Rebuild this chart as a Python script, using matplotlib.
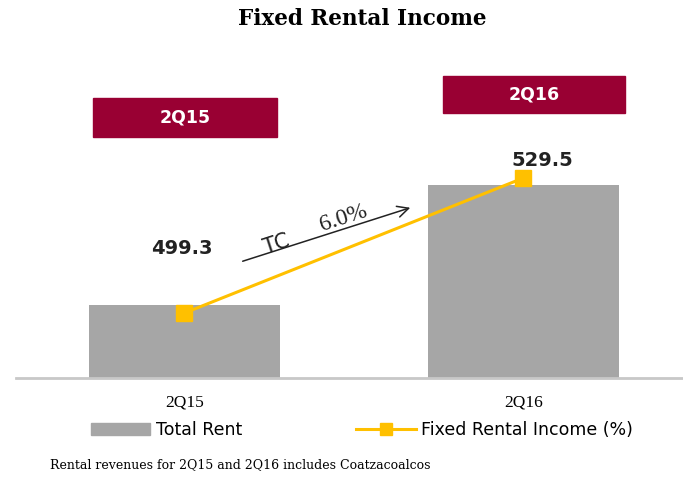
import numpy as np
import matplotlib
matplotlib.use('Agg')
import matplotlib.pyplot as plt
from matplotlib.patches import Rectangle
from matplotlib.lines import Line2D
import matplotlib.transforms as mtransforms

quarters = ['2Q15', '2Q16']
total_rent = [499.3, 529.5]
fixed_income = [499.3, 529.5]
growth_label = '6.0%'
footnote = 'Rental revenues for 2Q15 and 2Q16 includes Coatzacoalcos'

bar_color = '#A6A6A6'
line_color = '#FFC000'
box_color = '#990033'

fig = plt.figure(figsize=(6.83, 4.78), dpi=100)
ax = fig.add_axes([16/683, 1 - 378/478, 666/683, 318/478])
x = np.arange(len(quarters))

ax.bar(x, total_rent, width=0.563, color=bar_color, zorder=2)
ax.set_xlim(-0.497, 1.468)
ax.set_ylim(480.9, 561.0)

for s in ['top', 'right', 'left']:
    ax.spines[s].set_visible(False)
ax.spines['bottom'].set_color('#C8C8C8')
ax.spines['bottom'].set_linewidth(2)
ax.set_yticks([])
ax.set_xticks(x)
ax.set_xticklabels(quarters, family='Liberation Serif', fontsize=12.5)
ax.tick_params(axis='x', length=0, pad=12)

# line on its own scale
ax2 = ax.twinx()
ax2.set_ylim(484.76, 555.9)
ax2.axis('off')
ax2.plot(x, fixed_income, color=line_color, lw=2.2, marker='s', ms=11, zorder=3)

# value labels
ax.text(-0.007, 513.6, f'{total_rent[0]:.1f}', ha='center', va='center',
        fontsize=14, fontweight='bold', color='#222222')
ax.text(1.055, 535.8, f'{total_rent[1]:.1f}', ha='center', va='center',
        fontsize=14, fontweight='bold', color='#222222')

# quarter boxes
trans = mtransforms.blended_transform_factory(ax.transData, ax.transAxes)
boxes = [(-0.27, 0.758, 0.543, 0.122), (0.031 + 1 - 0.268, 0.833, 0.537, 0.117)]
for q, (bx, by, bw, bh) in zip(quarters, boxes):
    ax.add_patch(Rectangle((bx, by), bw, bh, transform=trans, color=box_color,
                           clip_on=False, zorder=4))
    ax.text(bx + bw / 2, by + bh / 2, q, transform=trans, ha='center', va='center',
            color='white', fontsize=12.5, fontweight='bold', zorder=5)

# growth arrow
ax.annotate('', xy=(0.674, 524.0), xytext=(0.164, 510.1),
            arrowprops=dict(arrowstyle='->', color='#222222', lw=1.1,
                            mutation_scale=20))
ax.text(0.273, 514.7, 'TC', rotation=18, ha='center', va='center',
        fontsize=15, color='#222222')
ax.text(0.47, 521.2, growth_label, rotation=18, ha='center', va='center',
        fontsize=17, family='Liberation Serif', color='#222222')

fig.text(362/683, 1 - 19/478, 'Fixed Rental Income', ha='center', va='center',
         family='DejaVu Serif', fontweight='bold', fontsize=15.5)

handles = [Rectangle((0, 0), 1, 1, color=bar_color),
           Line2D([], [], color=line_color, lw=2.2, marker='s', ms=9)]
fig.legend(handles, ['Total Rent', 'Fixed Rental Income (%)'], ncol=2,
           loc='center', bbox_to_anchor=(362/683, 1 - 430/478), frameon=False,
           prop={'family': 'DejaVu Sans', 'size': 12.5}, handlelength=3.4,
           columnspacing=6.6, handletextpad=0.3)

fig.text(50/683, 1 - 465/478, footnote, ha='left', va='center',
         family='DejaVu Serif', fontsize=9)

fig.savefig('out.png', dpi=100)
